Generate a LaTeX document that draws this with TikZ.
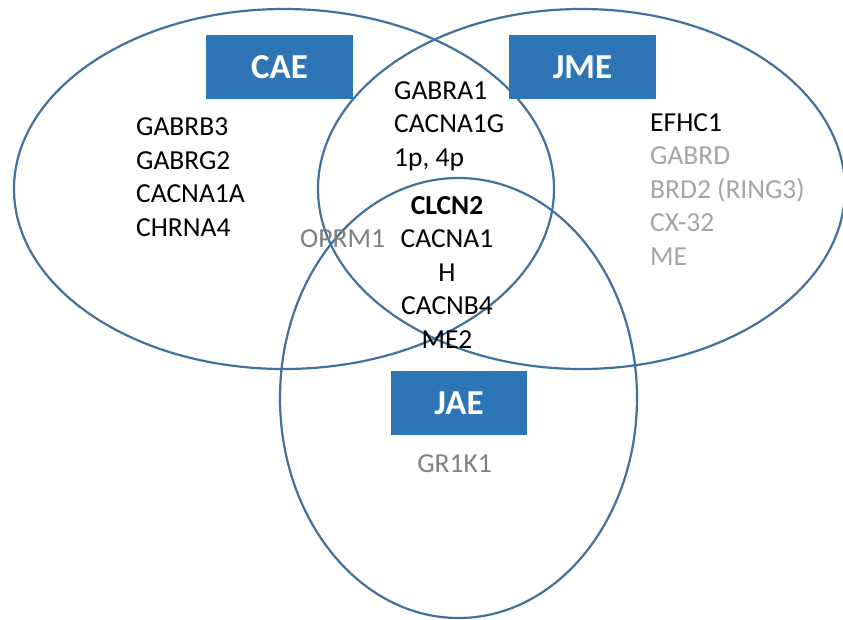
\documentclass[tikz,border=0pt]{standalone}
\usepackage{fontspec}
\setmainfont{Carlito}
\usetikzlibrary{positioning}
\definecolor{cRing}{HTML}{41719C}
\definecolor{cHead}{HTML}{2E75B6}
\definecolor{cMid}{HTML}{7F7F7F}
\definecolor{cLight}{HTML}{A5A5A5}
\tikzset{
  ring/.style={draw=cRing,line width=2.2pt},
  head/.style={fill=cHead,text=white,inner sep=0pt,minimum width=147pt,
              minimum height=64pt,font=\fontsize{35}{40}\selectfont\bfseries},
  % base of a list is the baseline of its last line
  genes/.style={inner sep=0pt,align=left,anchor=base west,
              font=\fontsize{27.5}{33.5}\selectfont},
}

\begin{document}
\begin{tikzpicture}[x=1pt,y=-1pt]
  \useasboundingbox (0,0) rectangle (843,619);
  % the three syndromes
  \draw[ring] (284,189) ellipse [x radius=270, y radius=180];
  \draw[ring] (581.5,189) ellipse [x radius=263.5, y radius=180];
  \draw[ring] (458.5,398) ellipse [x radius=178.5, y radius=220];
  \node[head] (cae) at (279.5,67) {CAE};
  \node[head] (jme) at (582.5,67) {JME};
  \node[head,minimum width=136pt] (jae) at (459,403) {JAE};
  % gene lists
  \node[genes] (caeg) at (136,236) {GABRB3\\GABRG2\\CACNA1A\\CHRNA4};
  \node[genes] (both) at (394,166) {GABRA1\\CACNA1G\\1p, 4p};
  \node[genes] (jmeg) at (650,265) {EFHC1\\\textcolor{cLight}{GABRD}\\
    \textcolor{cLight}{BRD2 (RING3)}\\\textcolor{cLight}{CX-32}\\\textcolor{cLight}{ME}};
  \node[genes,align=center,anchor=base] (core) at (447,348)
    {\textbf{CLCN2}\\CACNA1\\H\\CACNB4\\ME2};
  \node[genes,text=cMid] (oprm) at (300,247) {OPRM1};
  \node[genes,text=cMid,anchor=base] (grik) at (454.5,472) {GR1K1};
\end{tikzpicture}
\end{document}
